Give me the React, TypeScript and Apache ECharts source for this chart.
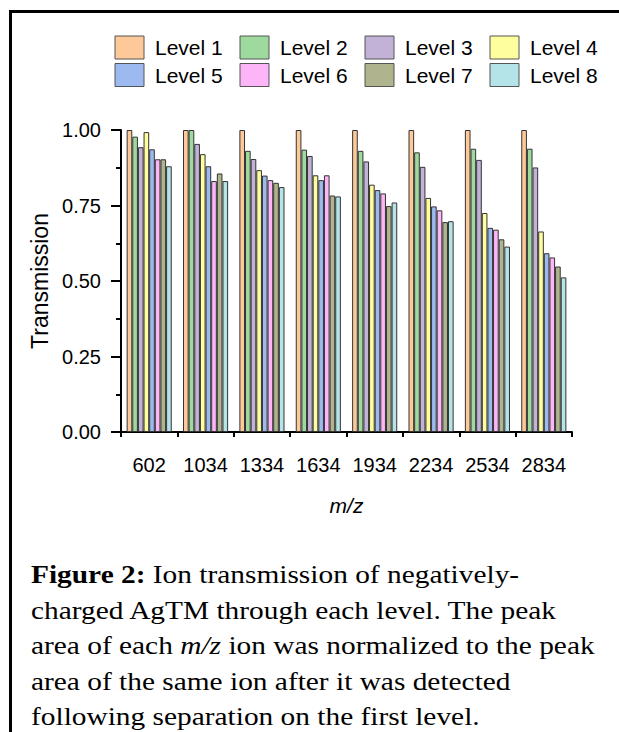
import React, { useEffect, useRef } from "react";
import * as echarts from "echarts";

const categories = ["602", "1034", "1334", "1634", "1934", "2234", "2534", "2834"];
const levelNames = ["Level 1", "Level 2", "Level 3", "Level 4", "Level 5", "Level 6", "Level 7", "Level 8"];
const level1 = [1.0, 1.0, 1.0, 1.0, 1.0, 1.0, 1.0, 1.0];
const level2 = [0.978, 1.0, 0.931, 0.935, 0.931, 0.926, 0.938, 0.938];
const level3 = [0.943, 0.954, 0.904, 0.914, 0.896, 0.878, 0.901, 0.876];
const level4 = [0.993, 0.92, 0.867, 0.85, 0.819, 0.775, 0.725, 0.664];
const level5 = [0.936, 0.88, 0.849, 0.834, 0.801, 0.747, 0.676, 0.592];
const level6 = [0.903, 0.831, 0.834, 0.85, 0.79, 0.734, 0.67, 0.578];
const level7 = [0.903, 0.856, 0.825, 0.783, 0.748, 0.695, 0.638, 0.548];
const level8 = [0.88, 0.831, 0.811, 0.78, 0.76, 0.698, 0.614, 0.512];
const levelValues = [level1, level2, level3, level4, level5, level6, level7, level8];
const levelColors = ["#FDC998", "#9ED99D", "#C3B2D7", "#FFFE9E", "#9CB9F0", "#FCB5F6", "#B0B48E", "#B4E3E8"];
const yTicks = [0, 0.25, 0.5, 0.75, 1.0];

const SANS = "'Liberation Sans', Arial, sans-serif";
const SERIF = "'Liberation Serif', 'Times New Roman', serif";

export default function App() {
  const ref = useRef<HTMLDivElement>(null);
  useEffect(() => {
    if (!ref.current) return;
    const chart = echarts.init(ref.current, null, { renderer: "svg" });
    const legendBase = {
      orient: "horizontal",
      left: 114.5,
      padding: 0,
      itemWidth: 29,
      itemHeight: 23,
      itemGap: 14.5,
      icon: "rect",
      itemStyle: { borderColor: "#555", borderWidth: 1 },
      textStyle: {
        fontFamily: SANS,
        fontSize: 21,
        color: "#000",
        width: 70,
        lineHeight: 23,
        padding: [0, 0, 0, 6],
      },
    };
    const option: any = {
      animation: false,
      backgroundColor: "#fff",
      legend: [
        { ...legendBase, top: 35.5, data: levelNames.slice(0, 4) },
        { ...legendBase, top: 63, data: levelNames.slice(4, 8) },
      ],
      grid: { left: 121, right: 47, top: 130, bottom: 300, containLabel: false },
      xAxis: [
        {
          type: "category",
          data: categories,
          name: "m/z",
          nameLocation: "middle",
          nameGap: 63,
          nameTextStyle: { fontFamily: SANS, fontSize: 21, fontStyle: "italic", color: "#000" },
          axisLine: { lineStyle: { color: "#000", width: 2 } },
          axisTick: { alignWithLabel: true, length: 9, lineStyle: { color: "#000", width: 2 } },
          axisLabel: { fontFamily: SANS, fontSize: 20, color: "#000", margin: 23, interval: 0 },
        },
        {
          type: "value",
          min: 0,
          max: 8,
          interval: 1,
          position: "bottom",
          axisLine: { show: false },
          axisTick: { show: true, length: 5, lineStyle: { color: "#000", width: 2 } },
          axisLabel: { show: false },
          splitLine: { show: false },
        },
      ],
      yAxis: {
        type: "value",
        min: 0,
        max: 1,
        interval: 0.25,
        name: "Transmission",
        nameLocation: "middle",
        nameGap: 62,
        nameTextStyle: { fontFamily: SANS, fontSize: 23, color: "#000" },
        axisLine: { show: true, lineStyle: { color: "#000", width: 2 } },
        axisTick: { show: true, length: 10, lineStyle: { color: "#000", width: 2 } },
        minorTick: { show: true, splitNumber: 2, length: 5, lineStyle: { color: "#000", width: 2 } },
        splitLine: { show: false },
        axisLabel: {
          fontFamily: SANS,
          fontSize: 20,
          color: "#000",
          margin: 20,
          formatter: (v: number) => (yTicks.includes(v) ? v.toFixed(2) : ""),
        },
      },
      series: levelNames.map((name, i) => ({
        name,
        type: "bar",
        xAxisIndex: 0,
        data: levelValues[i],
        barGap: "0%",
        barCategoryGap: "20%",
        itemStyle: { color: levelColors[i], borderColor: "#333", borderWidth: 1 },
      })),
      graphic: [
        {
          type: "rect",
          shape: { x: 10.5, y: 11.5, width: 800, height: 900 },
          style: { fill: "none", stroke: "#000", lineWidth: 3 },
          silent: true,
        },
        {
          type: "text",
          x: 31,
          y: 556.5,
          scaleX: 1.13,
          style: {
            text:
              "{b|Figure 2:} Ion transmission of negatively-\ncharged AgTM through each level. The peak\narea of each {i|m/z} ion was normalized to the peak\narea of the same ion after it was detected\nfollowing separation on the first level.",
            fontFamily: SERIF,
            fontSize: 26,
            lineHeight: 35.5,
            fill: "#000",
            verticalAlign: "top",
            rich: {
              b: { fontFamily: SERIF, fontSize: 26, lineHeight: 35.5, fontWeight: "bold", fill: "#000" },
              i: { fontFamily: SERIF, fontSize: 26, lineHeight: 35.5, fontStyle: "italic", fill: "#000" },
            },
          },
        },
      ],
    };
    chart.setOption(option);
    return () => chart.dispose();
  }, []);
  return (
    <div
      ref={ref}
      style={{ position: "absolute", left: 0, top: 0, width: 619, height: 732, background: "#fff" }}
    />
  );
}
